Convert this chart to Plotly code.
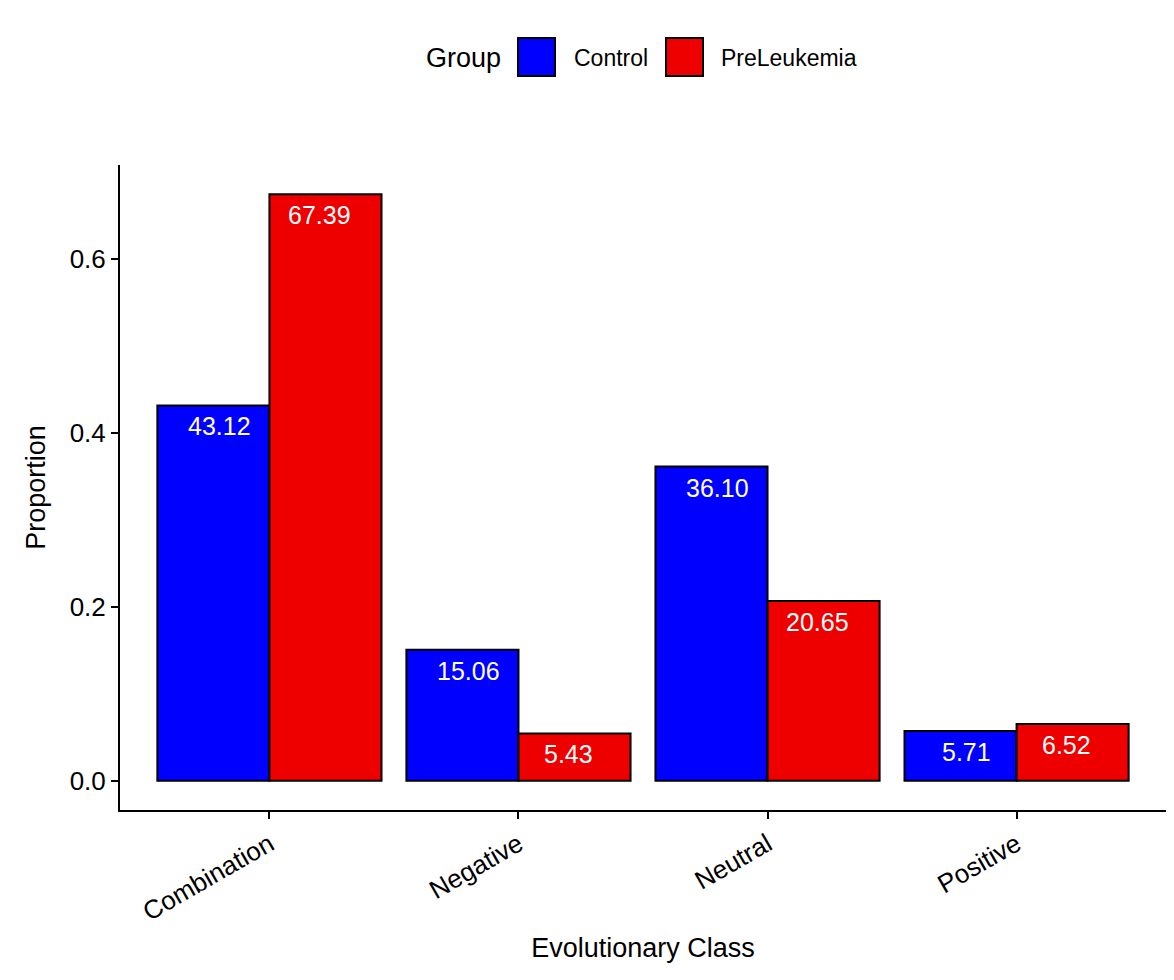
import plotly.graph_objects as go

categories = ["Combination", "Negative", "Neutral", "Positive"]
control = [0.4312, 0.1506, 0.3610, 0.0571]
preleukemia = [0.6739, 0.0543, 0.2065, 0.0652]
groups = ["Control", "PreLeukemia"]
colors = ["#0000FF", "#EE0000"]
y_ticks = [0.0, 0.2, 0.4, 0.6]

# page has an 8px body margin; work in page pixels and convert
OFF = 8
W, H = 1174 - OFF, 980 - OFF
PL, PR, PT, PB = 120, 1166, 165, 810  # plot area in page pixels
L, T = PL - OFF, PT - OFF
R = W - (PR - OFF)
B = H - (PB - OFF)
PW, PH = PR - PL, PB - PT
FONT = "Liberation Sans, Arial, Helvetica, sans-serif"


def px(x):
    return (x - PL) / PW


def py(y):
    return (PB - y) / PH


fig = go.Figure()
for name, vals, col in zip(groups, [control, preleukemia], colors):
    fig.add_trace(go.Bar(
        x=categories, y=vals, name=name,
        marker=dict(color=col, line=dict(color="black", width=2)),
        showlegend=False,
    ))

annotations = []
for vals, shift in [(control, -50), (preleukemia, 50)]:
    for c, v in zip(categories, vals):
        annotations.append(dict(
            x=c, y=v, xref="x", yref="y", text=f"{v*100:.2f}",
            showarrow=False, xshift=shift, yshift=-21, yanchor="middle",
            font=dict(color="white", size=25, family=FONT),
        ))

# custom legend
shapes = []
annotations.append(dict(x=px(424), y=py(58), xref="paper", yref="paper", text="Group",
                        showarrow=False, xanchor="left", yanchor="middle",
                        font=dict(size=27, color="black", family=FONT)))
leg_items = [(518, 572), (666, 719)]
for (bx, tx), name, col in zip(leg_items, groups, colors):
    shapes.append(dict(type="rect", xref="paper", yref="paper",
                       x0=px(bx), x1=px(bx + 37), y0=py(76), y1=py(38),
                       fillcolor=col, line=dict(color="black", width=2)))
    annotations.append(dict(x=px(tx), y=py(58), xref="paper", yref="paper", text=name,
                            showarrow=False, xanchor="left", yanchor="middle",
                            font=dict(size=23, color="black", family=FONT)))

fig.update_layout(
    width=W, height=H,
    margin=dict(l=L, r=R, t=T, b=B),
    plot_bgcolor="white", paper_bgcolor="white",
    barmode="group", bargap=0.1, bargroupgap=0,
    font=dict(family=FONT, color="black"),
    annotations=annotations, shapes=shapes,
    xaxis=dict(
        range=[-0.6, 3.6], showline=True, linecolor="black", linewidth=2,
        ticks="outside", ticklen=7, tickwidth=2, tickcolor="black",
        tickangle=-30, tickfont=dict(size=26, color="black"),
        title=dict(text="Evolutionary Class", font=dict(size=27), standoff=12),
        showgrid=False, zeroline=False,
    ),
    yaxis=dict(
        range=[-0.0337, 0.7076], showline=True, linecolor="black", linewidth=2,
        ticks="outside", ticklen=7, tickwidth=2, tickcolor="black",
        tickvals=y_ticks, tickformat=".1f", tickfont=dict(size=26, color="black"),
        title=dict(text="Proportion", font=dict(size=27), standoff=16),
        showgrid=False, zeroline=False,
    ),
)

fig.write_html("out.html")
